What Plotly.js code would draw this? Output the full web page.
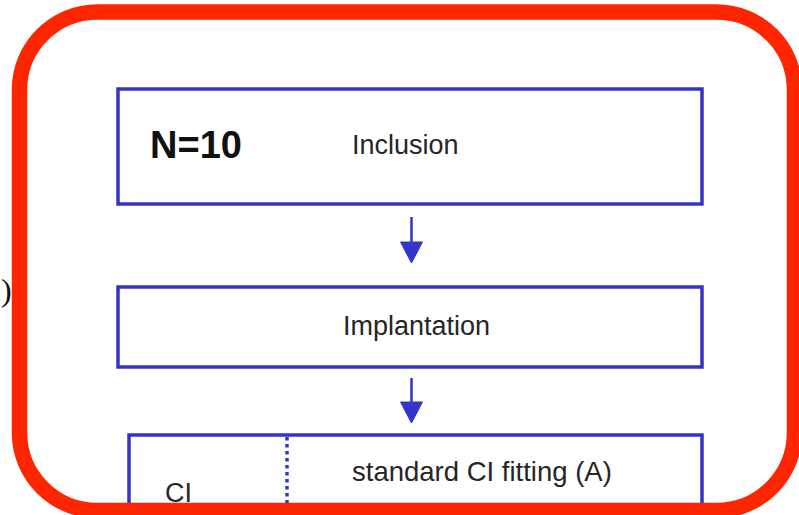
<!DOCTYPE html>
<html>
<head>
<meta charset="utf-8">
<script src="https://cdn.plot.ly/plotly-3.0.1.min.js"></script>
<style>html,body{margin:0;padding:0;background:#fff;}#chart{width:799px;height:515px;}</style>
</head>
<body>
<div id="chart"></div>
<script>
// ---- content ----
const countLabel = "N=10";
const stepLabels = ["Inclusion", "Implantation"];
const groupLabel = "CI";
const armLabels = ["standard CI fitting (A)"];
const edgeText = ")";

// ---- geometry (pixel space of the 799x515 canvas) ----
const W = 799, H = 515;
const BLUE = "#3434c8", RED = "#fe2600", TXT = "#262626";
const boxes = [
  {x0:118, x1:702, y0:89,  y1:204},
  {x0:118, x1:702, y0:287, y1:367},
  {x0:129, x1:702, y0:435, y1:570}
];
const arrowX = 411.5;
const arrows = [[217, 263], [378, 423]];

const shapes = [];
const annotations = [];

boxes.forEach(b => shapes.push({type:"rect", xref:"x", yref:"y", x0:b.x0, x1:b.x1, y0:b.y0, y1:b.y1,
  line:{color:BLUE, width:3.5}, fillcolor:"rgba(0,0,0,0)", layer:"above"}));

// dotted divider in the third box
shapes.push({type:"line", xref:"x", yref:"y", x0:287, x1:287, y0:437, y1:570,
  line:{color:BLUE, width:3.5, dash:"dot"}});

// arrows
arrows.forEach(a => {
  const [ya, yb] = a;
  const headH = 21, headW = 11;
  shapes.push({type:"line", xref:"x", yref:"y", x0:arrowX, x1:arrowX, y0:ya, y1:yb - headH + 3,
    line:{color:BLUE, width:2.5}});
  shapes.push({type:"path", xref:"x", yref:"y",
    path:`M ${arrowX-headW} ${yb-headH} L ${arrowX+headW} ${yb-headH} L ${arrowX} ${yb} Z`,
    fillcolor:BLUE, line:{color:BLUE, width:1}});
});

// red rounded frame
(function(){
  const l = 19.5, t = 12, r = 794.5, btm = 510.5, rad = 78, k = 0.5523 * rad;
  const p = `M ${l+rad} ${t} L ${r-rad} ${t} C ${r-rad+k} ${t} ${r} ${t+rad-k} ${r} ${t+rad}` +
            ` L ${r} ${btm-rad} C ${r} ${btm-rad+k} ${r-rad+k} ${btm} ${r-rad} ${btm}` +
            ` L ${l+rad} ${btm} C ${l+rad-k} ${btm} ${l} ${btm-rad+k} ${l} ${btm-rad}` +
            ` L ${l} ${t+rad} C ${l} ${t+rad-k} ${l+rad-k} ${t} ${l+rad} ${t} Z`;
  shapes.push({type:"path", xref:"x", yref:"y", path:p, line:{color:RED, width:15.5},
    fillcolor:"rgba(0,0,0,0)", layer:"above"});
})();

const sans = "Liberation Sans, Arial, sans-serif";
function txt(text, x, y, size, opts) {
  annotations.push(Object.assign({xref:"x", yref:"y", x:x, y:y, text:text, showarrow:false,
    xanchor:"center", yanchor:"middle", font:{family:sans, size:size, color:TXT}}, opts || {}));
}
txt("<b>" + countLabel + "</b>", 196, 145, 38, {font:{family:sans, size:38, color:"#111"}});
txt(stepLabels[0], 405, 145, 27);
txt(stepLabels[1], 416, 326, 27);
txt(armLabels[0], 482, 471, 27.5);
txt(groupLabel, 178, 493, 27);
txt(edgeText, 0, 290, 32, {xanchor:"left", borderpad:0,
  font:{family:"Liberation Serif, Times New Roman, serif", size:32, color:"#111"}});

const layout = {
  width: W, height: H,
  margin: {l:0, r:0, t:0, b:0, pad:0},
  paper_bgcolor: "#ffffff", plot_bgcolor: "#ffffff",
  showlegend: false,
  xaxis: {range:[0, W], visible:false, fixedrange:true},
  yaxis: {range:[H, 0], visible:false, fixedrange:true},
  shapes: shapes,
  annotations: annotations
};

Plotly.newPlot("chart", [{x:[], y:[], type:"scatter", hoverinfo:"skip"}], layout, {staticPlot:true, displayModeBar:false});
</script>
</body>
</html>
